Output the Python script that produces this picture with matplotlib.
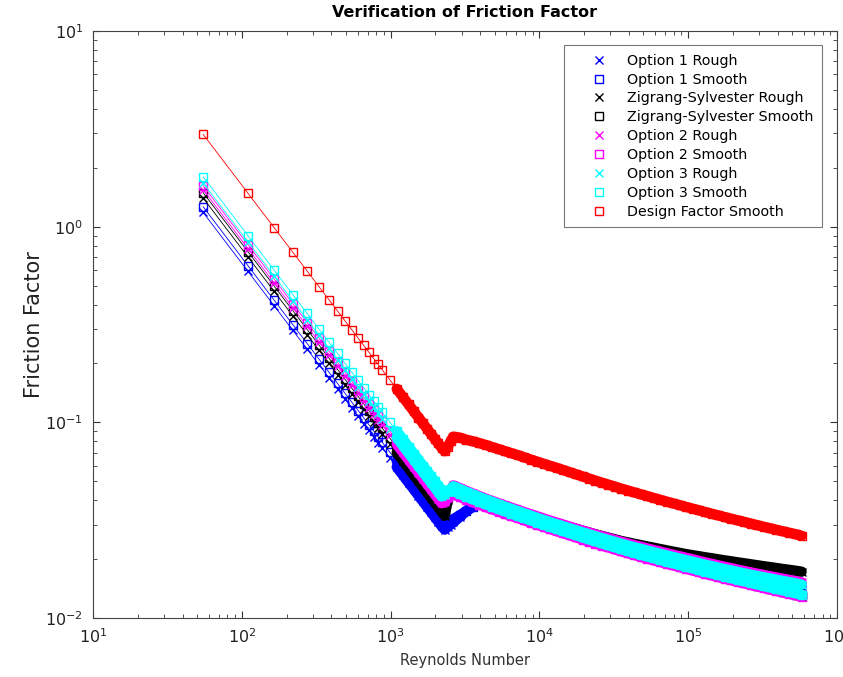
import numpy as np
import matplotlib.pyplot as plt
from matplotlib.lines import Line2D

# Reynolds numbers of the computed points (laminar, transition, turbulent)
reynolds = [55, 110, 165, 220, 275, 330, 385, 440, 495, 550, 605, 660, 715, 770,
            825, 880, 990, 1100, 1210, 1320, 1430, 1540, 1650, 1760, 1870, 1980,
            2090, 2200,
            2310, 2420, 2530,
            2640, 2920, 3220, 3560, 3940, 4350, 4810, 5320, 5880, 6490,
            7180, 7930, 8770, 9690, 10700, 11800, 13100, 14500, 16000, 17700,
            19500, 21600, 23800, 26300, 29100, 32200, 35500, 39300, 43400, 48000,
            53000, 58600, 64800, 71600, 79100, 87400, 96600, 107000, 118000, 130000,
            144000, 159000, 176000, 195000, 215000, 238000, 263000, 290000, 321000, 355000,
            392000, 433000, 479000, 529000, 578000]

opt1_rough = [1.182, 0.591, 0.394, 0.2955, 0.2364, 0.1970, 0.1688, 0.1477, 0.1313, 0.1182,
              0.1074, 0.0985, 0.0909, 0.0844, 0.0788, 0.0739, 0.0657, 0.0591, 0.0537, 0.0492,
              0.0455, 0.0422, 0.0394, 0.0369, 0.0348, 0.0328, 0.0311, 0.0295,
              0.0283, 0.0292, 0.0300,
              0.0308, 0.0329, 0.0351, 0.0377, 0.0405, 0.03973, 0.03862, 0.03756, 0.03654, 0.03556,
              0.03463, 0.03371, 0.03284, 0.03200, 0.03120, 0.03043, 0.02968, 0.02897, 0.02827, 0.02762,
              0.02698, 0.02637, 0.02577, 0.02520, 0.02465, 0.02412, 0.02360, 0.02312, 0.02266, 0.02222,
              0.02179, 0.02137, 0.02096, 0.02057, 0.02019, 0.01983, 0.01946, 0.01911, 0.01878, 0.01844,
              0.01813, 0.01781, 0.01750, 0.01722, 0.01693, 0.01666, 0.01640, 0.01616, 0.01591, 0.01568,
              0.01545, 0.01523, 0.01502, 0.01480, 0.01460]

opt1_smooth = [1.264, 0.632, 0.421, 0.316, 0.2527, 0.2106, 0.1805, 0.1580, 0.1404, 0.1264,
               0.1149, 0.1053, 0.0972, 0.0903, 0.0842, 0.0790, 0.0702, 0.0632, 0.0574, 0.0527,
               0.0486, 0.0451, 0.0421, 0.0395, 0.0372, 0.0351, 0.0333, 0.0316,
               0.0302, 0.0308, 0.0314,
               0.0320, 0.0335, 0.0351, 0.0369, 0.0390, 0.03776, 0.03670, 0.03569, 0.03472, 0.03379,
               0.03290, 0.03203, 0.03121, 0.03041, 0.02965, 0.02892, 0.02822, 0.02752, 0.02683, 0.02619,
               0.02556, 0.02495, 0.02437, 0.02381, 0.02327, 0.02275, 0.02224, 0.02176, 0.02130, 0.02086,
               0.02043, 0.02002, 0.01961, 0.01922, 0.01884, 0.01848, 0.01812, 0.01776, 0.01742, 0.01708,
               0.01675, 0.01643, 0.01612, 0.01582, 0.01553, 0.01525, 0.01497, 0.01471, 0.01444, 0.01419,
               0.01394, 0.01371, 0.01348, 0.01325, 0.01303]

zs_rough = [1.400, 0.700, 0.467, 0.350, 0.280, 0.2333, 0.2000, 0.1750, 0.1556, 0.1400,
            0.1273, 0.1167, 0.1077, 0.1000, 0.0933, 0.0875, 0.0778, 0.0700, 0.0636, 0.0583,
            0.0538, 0.0500, 0.0467, 0.0438, 0.0412, 0.0389, 0.0368, 0.0350,
            0.0333, 0.0400, 0.0450,
            0.04711, 0.04562, 0.04420, 0.04286, 0.04157, 0.04034, 0.03925, 0.03820, 0.03720, 0.03624,
            0.03532, 0.03441, 0.03355, 0.03271, 0.03192, 0.03115, 0.03041, 0.02975, 0.02911, 0.02850,
            0.02790, 0.02733, 0.02677, 0.02624, 0.02573, 0.02523, 0.02473, 0.02433, 0.02394, 0.02357,
            0.02320, 0.02285, 0.02250, 0.02216, 0.02183, 0.02152, 0.02120, 0.02093, 0.02068, 0.02042,
            0.02018, 0.01993, 0.01969, 0.01947, 0.01924, 0.01903, 0.01881, 0.01860, 0.01838, 0.01819,
            0.01799, 0.01779, 0.01761, 0.01742, 0.01724]

zs_smooth = [1.491, 0.745, 0.497, 0.3727, 0.2982, 0.2485, 0.2130, 0.1864, 0.1657, 0.1491,
             0.1355, 0.1242, 0.1147, 0.1065, 0.0994, 0.0932, 0.0828, 0.0745, 0.0678, 0.0621,
             0.0573, 0.0532, 0.0497, 0.0466, 0.0439, 0.0414, 0.0392, 0.0373,
             0.0355, 0.0410, 0.0440,
             0.04488, 0.04348, 0.04215, 0.04089, 0.03968, 0.03852, 0.03745, 0.03642, 0.03544, 0.03449,
             0.03359, 0.03271, 0.03187, 0.03106, 0.03029, 0.02955, 0.02883, 0.02809, 0.02738, 0.02670,
             0.02604, 0.02540, 0.02479, 0.02420, 0.02364, 0.02309, 0.02255, 0.02204, 0.02155, 0.02107,
             0.02061, 0.02016, 0.01972, 0.01931, 0.01890, 0.01851, 0.01812, 0.01775, 0.01740, 0.01705,
             0.01672, 0.01639, 0.01606, 0.01576, 0.01546, 0.01518, 0.01489, 0.01462, 0.01435, 0.01409,
             0.01384, 0.01359, 0.01336, 0.01312, 0.01290]

opt2_rough = [1.545, 0.773, 0.515, 0.386, 0.309, 0.2576, 0.2208, 0.1932, 0.1717, 0.1545,
              0.1405, 0.1288, 0.1189, 0.1104, 0.1030, 0.0966, 0.0859, 0.0773, 0.0702, 0.0644,
              0.0594, 0.0552, 0.0515, 0.0483, 0.0455, 0.0429, 0.0407, 0.0386,
              0.0390, 0.0410, 0.0440,
              0.04759, 0.04608, 0.04465, 0.04329, 0.04198, 0.04074, 0.03964, 0.03858, 0.03757, 0.03660,
              0.03567, 0.03475, 0.03388, 0.03303, 0.03223, 0.03145, 0.03070, 0.02998, 0.02927, 0.02860,
              0.02795, 0.02733, 0.02672, 0.02614, 0.02558, 0.02504, 0.02451, 0.02402, 0.02356, 0.02311,
              0.02267, 0.02224, 0.02183, 0.02143, 0.02104, 0.02067, 0.02029, 0.01993, 0.01958, 0.01923,
              0.01890, 0.01857, 0.01825, 0.01795, 0.01765, 0.01737, 0.01710, 0.01684, 0.01658, 0.01634,
              0.01609, 0.01586, 0.01564, 0.01541, 0.01520]

opt2_smooth = [1.618, 0.809, 0.539, 0.4045, 0.3236, 0.2697, 0.2312, 0.2023, 0.1798, 0.1618,
               0.1471, 0.1348, 0.1245, 0.1156, 0.1079, 0.1011, 0.0899, 0.0809, 0.0736, 0.0674,
               0.0622, 0.0578, 0.0539, 0.0506, 0.0476, 0.0449, 0.0426, 0.0405,
               0.0400, 0.0415, 0.0425,
               0.04283, 0.04153, 0.04029, 0.03911, 0.03798, 0.03691, 0.03592, 0.03498, 0.03408, 0.03321,
               0.03238, 0.03153, 0.03072, 0.02993, 0.02919, 0.02847, 0.02778, 0.02709, 0.02642, 0.02578,
               0.02516, 0.02457, 0.02399, 0.02345, 0.02292, 0.02240, 0.02190, 0.02143, 0.02098, 0.02055,
               0.02012, 0.01971, 0.01932, 0.01893, 0.01856, 0.01821, 0.01785, 0.01749, 0.01716, 0.01682,
               0.01650, 0.01619, 0.01588, 0.01559, 0.01530, 0.01502, 0.01475, 0.01449, 0.01423, 0.01398,
               0.01374, 0.01350, 0.01328, 0.01305, 0.01283]

opt3_rough = [1.673, 0.836, 0.558, 0.418, 0.3345, 0.2788, 0.2390, 0.2091, 0.1859, 0.1673,
              0.1521, 0.1394, 0.1287, 0.1195, 0.1115, 0.1045, 0.0929, 0.0836, 0.0760, 0.0697,
              0.0643, 0.0597, 0.0558, 0.0523, 0.0492, 0.0465, 0.0440, 0.0418,
              0.0425, 0.0440, 0.0455,
              0.04711, 0.04562, 0.04420, 0.04286, 0.04157, 0.04034, 0.03921, 0.03813, 0.03709, 0.03610,
              0.03515, 0.03422, 0.03333, 0.03247, 0.03166, 0.03088, 0.03012, 0.02940, 0.02869, 0.02802,
              0.02737, 0.02675, 0.02615, 0.02557, 0.02501, 0.02447, 0.02394, 0.02346, 0.02299, 0.02255,
              0.02211, 0.02169, 0.02127, 0.02088, 0.02049, 0.02012, 0.01975, 0.01940, 0.01906, 0.01872,
              0.01840, 0.01808, 0.01777, 0.01748, 0.01719, 0.01691, 0.01665, 0.01640, 0.01615, 0.01592,
              0.01568, 0.01546, 0.01524, 0.01502, 0.01481]

opt3_smooth = [1.800, 0.900, 0.600, 0.450, 0.360, 0.300, 0.2571, 0.2250, 0.2000, 0.1800,
               0.1636, 0.1500, 0.1385, 0.1286, 0.1200, 0.1125, 0.1000, 0.0900, 0.0818, 0.0750,
               0.0692, 0.0643, 0.0600, 0.0563, 0.0529, 0.0500, 0.0474, 0.0450,
               0.0448, 0.0446, 0.0444,
               0.04450, 0.04309, 0.04176, 0.04049, 0.03928, 0.03812, 0.03706, 0.03604, 0.03507, 0.03414,
               0.03324, 0.03237, 0.03154, 0.03073, 0.02996, 0.02922, 0.02851, 0.02780, 0.02711, 0.02646,
               0.02582, 0.02521, 0.02462, 0.02406, 0.02351, 0.02298, 0.02246, 0.02198, 0.02152, 0.02108,
               0.02064, 0.02022, 0.01981, 0.01942, 0.01903, 0.01867, 0.01830, 0.01794, 0.01759, 0.01725,
               0.01692, 0.01659, 0.01628, 0.01598, 0.01568, 0.01540, 0.01512, 0.01485, 0.01458, 0.01433,
               0.01408, 0.01384, 0.01361, 0.01338, 0.01315]

design_smooth = [2.964, 1.482, 0.988, 0.741, 0.593, 0.494, 0.4234, 0.3705, 0.3293, 0.2964,
                 0.2694, 0.2470, 0.2280, 0.2117, 0.1976, 0.1852, 0.1646, 0.1482, 0.1347, 0.1235,
                 0.1140, 0.1058, 0.0988, 0.0926, 0.0872, 0.0823, 0.0780, 0.0741,
                 0.0712, 0.0750, 0.0800,
                 0.0845, 0.08352, 0.08151, 0.08004, 0.07830, 0.07665, 0.07474, 0.07292, 0.07117, 0.06949,
                 0.06787, 0.06614, 0.06449, 0.06288, 0.06137, 0.05990, 0.05848, 0.05700, 0.05555, 0.05418,
                 0.05285, 0.05158, 0.05034, 0.04916, 0.04802, 0.04692, 0.04583, 0.04481, 0.04382, 0.04287,
                 0.04194, 0.04105, 0.04017, 0.03934, 0.03852, 0.03774, 0.03696, 0.03621, 0.03549, 0.03478,
                 0.03410, 0.03343, 0.03277, 0.03215, 0.03153, 0.03096, 0.03038, 0.02982, 0.02926, 0.02874,
                 0.02822, 0.02772, 0.02725, 0.02677, 0.02631]

# MATLAB-style pure colours
series = [
    ("Option 1 Rough", opt1_rough, "#0000FF", "x"),
    ("Option 1 Smooth", opt1_smooth, "#0000FF", "s"),
    ("Zigrang-Sylvester Rough", zs_rough, "#000000", "x"),
    ("Zigrang-Sylvester Smooth", zs_smooth, "#000000", "s"),
    ("Option 2 Rough", opt2_rough, "#FF00FF", "x"),
    ("Option 2 Smooth", opt2_smooth, "#FF00FF", "s"),
    ("Option 3 Rough", opt3_rough, "#00FFFF", "x"),
    ("Option 3 Smooth", opt3_smooth, "#00FFFF", "s"),
    ("Design Factor Smooth", design_smooth, "#FF0000", "s"),
]

re_arr = np.array(reynolds)
dense = re_arr >= 1100   # where the original markers pile up into a solid band

fig = plt.figure(figsize=(8.43, 6.77), dpi=100)
ax = fig.add_axes([0.1103, 0.0872, 0.8826, 0.867])

handles = []
for name, vals, col, mk in series:
    v = np.array(vals)
    # solid band where the markers overlap
    ax.plot(re_arr[dense], v[dense], color=col, linewidth=7.5,
            solid_capstyle="round", solid_joinstyle="round")
    ax.plot(re_arr, v, color=col, marker=mk, markerfacecolor="none",
            markersize=5.5, markeredgewidth=1.0, linewidth=0.6)
    # legend shows the marker only
    handles.append(Line2D([], [], color=col, marker=mk, markerfacecolor="none",
                          markersize=5.5, markeredgewidth=1.0, linestyle="none", label=name))

ax.set_xscale("log")
ax.set_yscale("log")
ax.set_xlim(10, 1e6)
ax.set_ylim(1e-2, 10)

ax.tick_params(which="both", direction="in", top=True, right=True, colors="#333333",
               labelcolor="#222222", labelsize=11.5, pad=7)
ax.tick_params(which="major", length=5)
ax.tick_params(which="minor", length=3)
for sp in ax.spines.values():
    sp.set_color("#444444")
    sp.set_linewidth(0.8)

ax.set_title("Verification of Friction Factor", fontsize=11.5, fontweight="bold", pad=10)
ax.set_xlabel("Reynolds Number", fontsize=10.5, color="#333333", labelpad=5)
ax.set_ylabel("Friction Factor", fontsize=15, color="#222222")
ax.yaxis.set_label_coords(-0.066, 0.5)

leg = ax.legend(handles=handles, loc="upper right", bbox_to_anchor=(0.980, 0.976),
                borderaxespad=0, fontsize=10.3, frameon=True, fancybox=False,
                handlelength=3.6, handletextpad=0.2, labelspacing=0.34, borderpad=0.6)
leg.get_frame().set_edgecolor("#555555")
leg.get_frame().set_linewidth(0.8)

fig.savefig("out.png", dpi=100)
